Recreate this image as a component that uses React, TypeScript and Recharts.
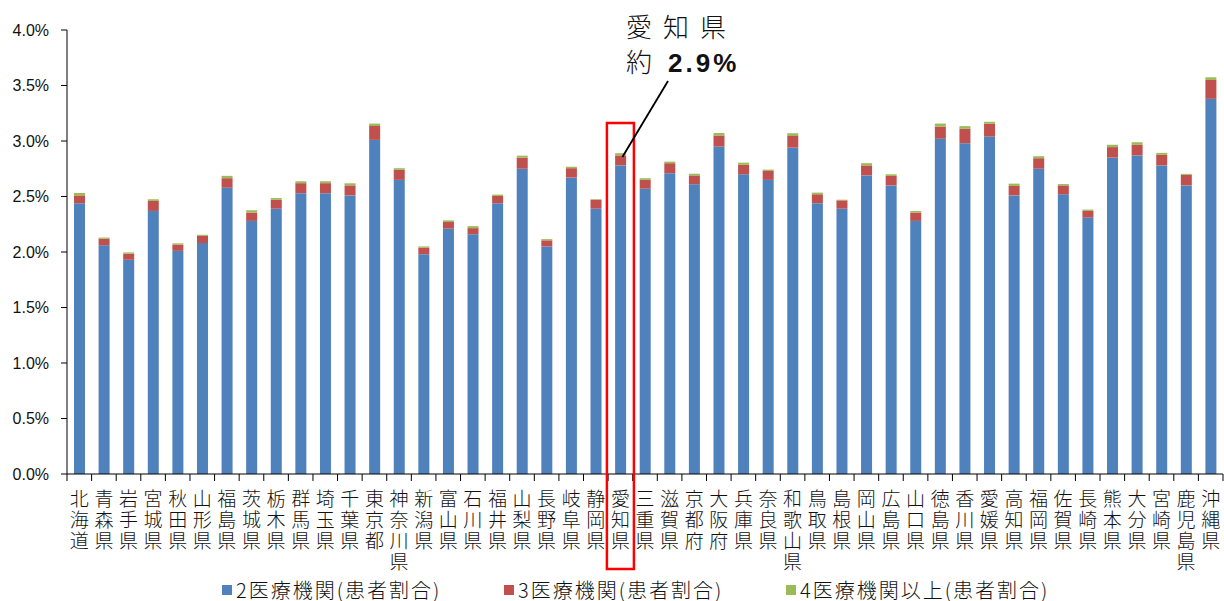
import { BarChart, Bar, XAxis, YAxis, Legend } from 'recharts';

const prefectures = [
  '北海道', '青森県', '岩手県', '宮城県', '秋田県', '山形県', '福島県', '茨城県',
  '栃木県', '群馬県', '埼玉県', '千葉県', '東京都', '神奈川県', '新潟県', '富山県',
  '石川県', '福井県', '山梨県', '長野県', '岐阜県', '静岡県', '愛知県', '三重県',
  '滋賀県', '京都府', '大阪府', '兵庫県', '奈良県', '和歌山県', '鳥取県', '島根県',
  '岡山県', '広島県', '山口県', '徳島県', '香川県', '愛媛県', '高知県', '福岡県',
  '佐賀県', '長崎県', '熊本県', '大分県', '宮崎県', '鹿児島県', '沖縄県',
];

// % of patients seen at 2 / 3 / 4+ institutions
const twoInst = [
  2.44, 2.06, 1.93, 2.37, 2.01, 2.08, 2.58, 2.28, 2.39, 2.53, 2.53, 2.51, 3.01, 2.65, 1.98, 2.21,
  2.16, 2.44, 2.75, 2.05, 2.67, 2.39, 2.78, 2.57, 2.71, 2.61, 2.95, 2.70, 2.65, 2.94, 2.44, 2.39,
  2.69, 2.60, 2.28, 3.02, 2.98, 3.04, 2.51, 2.75, 2.52, 2.31, 2.85, 2.87, 2.78, 2.60, 3.38,
];
const threeInst = [
  0.07, 0.06, 0.055, 0.09, 0.057, 0.065, 0.085, 0.075, 0.08, 0.09, 0.09, 0.09, 0.125, 0.09, 0.06, 0.06,
  0.055, 0.065, 0.10, 0.055, 0.085, 0.08, 0.09, 0.08, 0.09, 0.08, 0.10, 0.085, 0.08, 0.105, 0.08, 0.075,
  0.09, 0.085, 0.075, 0.11, 0.13, 0.115, 0.085, 0.095, 0.08, 0.06, 0.095, 0.095, 0.095, 0.095, 0.17,
];
const fourPlus = [
  0.022, 0.01, 0.011, 0.015, 0.011, 0.01, 0.021, 0.021, 0.016, 0.017, 0.017, 0.019, 0.022, 0.015, 0.01, 0.015,
  0.018, 0.012, 0.018, 0.011, 0.013, 0.006, 0.02, 0.015, 0.014, 0.015, 0.022, 0.02, 0.012, 0.025, 0.015, 0.006,
  0.02, 0.015, 0.014, 0.027, 0.024, 0.018, 0.021, 0.018, 0.012, 0.012, 0.021, 0.024, 0.018, 0.009, 0.024,
];

const yTicks = [0, 0.5, 1.0, 1.5, 2.0, 2.5, 3.0, 3.5, 4.0];
const seriesNames = ['2医療機関(患者割合)', '3医療機関(患者割合)', '4医療機関以上(患者割合)'];
const seriesColors = ['#4F81BD', '#C0504D', '#9BBB59'];

const data = prefectures.map((name, i) => ({
  name,
  two: twoInst[i],
  three: threeInst[i],
  four: fourPlus[i],
}));

const W = 1224;
const H = 601;
const MARGIN = { top: 30, right: 1, left: 0, bottom: 0 };
const Y_AXIS_W = 67;
const BAND = (W - MARGIN.left - MARGIN.right - Y_AXIS_W) / prefectures.length;
const JP_FONT = '"Noto Sans CJK JP", "Noto Sans", sans-serif';

function PrefTick(props: any) {
  const { x, y, payload, index } = props;
  const chars = Array.from(String(payload.value));
  return (
    <g>
      <line x1={x - BAND / 2} y1={y} x2={x - BAND / 2} y2={y + 7} stroke="#000" strokeWidth={1} />
      {index === prefectures.length - 1 && (
        <line x1={x + BAND / 2} y1={y} x2={x + BAND / 2} y2={y + 7} stroke="#000" strokeWidth={1} />
      )}
      <text textAnchor="middle" fontSize={19} fontFamily={JP_FONT} fontWeight={300} fill="#111">
        {chars.map((c, k) => (
          <tspan key={k} x={x} y={y + 32 + k * 21}>
            {c}
          </tspan>
        ))}
      </text>
    </g>
  );
}

function LegendContent() {
  return (
    <div style={{ display: 'flex', paddingLeft: 222, fontFamily: JP_FONT, fontWeight: 300 }}>
      {seriesNames.map((n, i) => (
        <div key={n} style={{ display: 'flex', alignItems: 'center', width: 282 }}>
          <span style={{ width: 10, height: 10, background: seriesColors[i], marginRight: 4 }} />
          <span style={{ fontSize: 20, color: '#111', letterSpacing: 2, lineHeight: '22px' }}>{n}</span>
        </div>
      ))}
    </div>
  );
}

export default function App() {
  const aichi = prefectures.indexOf('愛知県');
  const aichiX = MARGIN.left + Y_AXIS_W + BAND * (aichi + 0.5);

  return (
    <div style={{ position: 'absolute', left: 0, top: 0, width: W, height: H, background: '#fff' }}>
      <BarChart width={W} height={H} data={data} margin={MARGIN} barSize={11}>
        <YAxis
          width={Y_AXIS_W}
          domain={[0, 4]}
          ticks={yTicks}
          tickFormatter={(v: number) => `${v.toFixed(1)}%`}
          tickSize={6}
          tickMargin={12}
          axisLine={{ stroke: '#000' }}
          tickLine={{ stroke: '#000' }}
          tick={{ fontSize: 16, fill: '#111', fontFamily: '"Liberation Sans", Arial, sans-serif' }}
        />
        <XAxis
          dataKey="name"
          interval={0}
          height={H - MARGIN.top - 444}
          tickLine={false}
          tickSize={0}
          tickMargin={0}
          axisLine={{ stroke: '#000' }}
          tick={<PrefTick />}
        />
        <Legend
          verticalAlign="middle"
          align="center"
          layout="horizontal"
          wrapperStyle={{ top: 579, left: 0, width: W }}
          content={<LegendContent />}
        />
        <Bar dataKey="two" name={seriesNames[0]} stackId="a" fill={seriesColors[0]} isAnimationActive={false} />
        <Bar dataKey="three" name={seriesNames[1]} stackId="a" fill={seriesColors[1]} isAnimationActive={false} />
        <Bar dataKey="four" name={seriesNames[2]} stackId="a" fill={seriesColors[2]} isAnimationActive={false} />
      </BarChart>

      <svg width={W} height={H} style={{ position: 'absolute', left: 0, top: 0, pointerEvents: 'none' }}>
        <rect x={aichiX - 13.5} y={123} width={27} height={446} fill="none" stroke="#FF0000" strokeWidth={2.5} />
        <line x1={668} y1={81} x2={aichiX + 2} y2={157} stroke="#000" strokeWidth={1.8} />
        <text x={626} y={37} fontSize={26} fontFamily={JP_FONT} fontWeight={300} letterSpacing={11} fill="#111">
          愛知県
        </text>
        <text x={626} y={72} fontSize={26} fontFamily={JP_FONT} fontWeight={300} fill="#111">
          約
          <tspan x={668} fontWeight={700} letterSpacing={3} fontFamily='"Liberation Sans", Arial, sans-serif'>
            2.9%
          </tspan>
        </text>
      </svg>
    </div>
  );
}
